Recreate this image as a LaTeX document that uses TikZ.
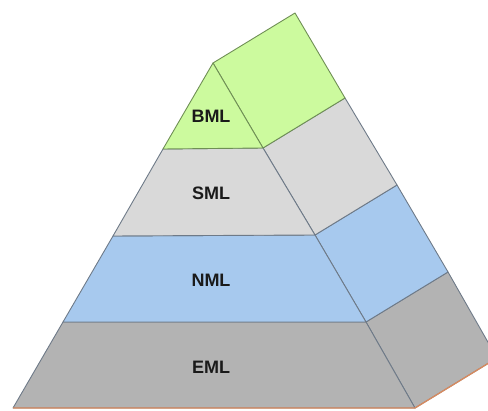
\documentclass[tikz,border=0pt]{standalone}
\usepackage{fontspec}
\setmainfont{Liberation Sans}
\begin{document}
\begin{tikzpicture}[x=1pt,y=-1pt,
  edge/.style={draw=edgegray,line width=0.9pt,line join=round},
  greenedge/.style={draw=edgegreen,line width=0.9pt,line join=round},
  layerlabel/.style={font=\fontsize{18}{18}\selectfont\bfseries,text=labeltext,inner sep=0pt}]
\definecolor{bmlgreen}{HTML}{CCFA9E}
\definecolor{smlgray}{HTML}{D9D9D9}
\definecolor{nmlblue}{HTML}{A7C9EE}
\definecolor{emlgray}{HTML}{B3B3B3}
\definecolor{edgegray}{HTML}{6E7A88}
\definecolor{edgegreen}{HTML}{6F8F55}
\definecolor{basecolor}{HTML}{D88A5E}
\definecolor{labeltext}{HTML}{1A1A1A}
\useasboundingbox (0,0) rectangle (488,411);
\clip (0,0) rectangle (488,411);
% front face corners
\coordinate (A)  at (213,63);
\coordinate (L1) at (163,149);  \coordinate (R1) at (263,148);
\coordinate (L2) at (113,236);  \coordinate (R2) at (315,235);
\coordinate (L3) at (63,322);   \coordinate (R3) at (366,322);
\coordinate (L4) at (13,408);   \coordinate (R4) at (415,408);
% side face corners, shifted back by (82,-50)
\coordinate (T)  at (295,13);
\coordinate (S1) at (345,98);
\coordinate (S2) at (397,185);
\coordinate (S3) at (448,272);
\coordinate (S4) at (497,358);
% side face bands
\path[fill=emlgray,edge]  (R3) -- (S3) -- (S4) -- (R4) -- cycle;
\path[fill=nmlblue,edge]  (R2) -- (S2) -- (S3) -- (R3) -- cycle;
\path[fill=smlgray,edge]  (R1) -- (S1) -- (S2) -- (R2) -- cycle;
\path[fill=bmlgreen,greenedge] (A) -- (T) -- (S1) -- (R1) -- cycle;
% front face bands
\path[fill=emlgray,edge]  (L3) -- (R3) -- (R4) -- (L4) -- cycle;
\path[fill=nmlblue,edge]  (L2) -- (R2) -- (R3) -- (L3) -- cycle;
\path[fill=smlgray,edge]  (L1) -- (R1) -- (R2) -- (L2) -- cycle;
\path[fill=bmlgreen,greenedge] (A) -- (R1) -- (L1) -- cycle;
% base edge
\draw[basecolor,line width=1.3pt,line join=round] (L4) -- (R4) -- (S4);
% layer names
\node[layerlabel] (bml) at (211,116) {BML};
\node[layerlabel] (sml) at (211,193) {SML};
\node[layerlabel] (nml) at (211,280) {NML};
\node[layerlabel] (eml) at (211,367) {EML};
\end{tikzpicture}
\end{document}
